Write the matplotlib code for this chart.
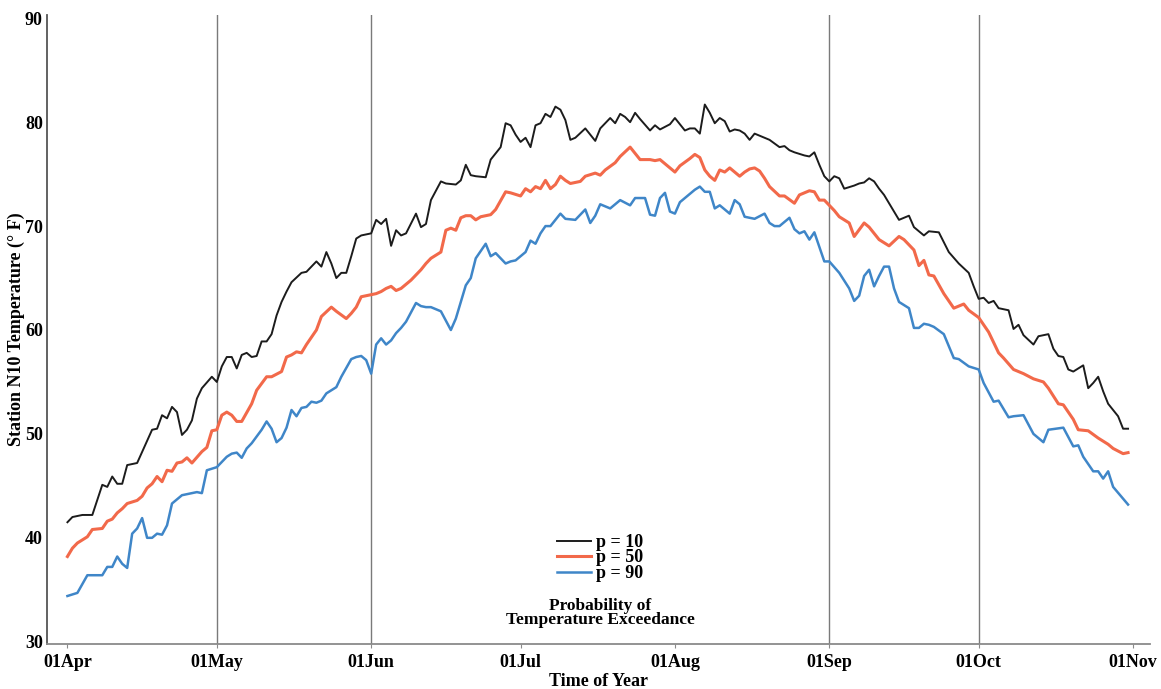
import matplotlib
matplotlib.use('Agg')
import matplotlib.pyplot as plt
import matplotlib.dates as mdates
import pandas as pd

# days after 01Apr and temperature (deg F)
p10_day = [0, 1, 3, 5, 7, 8, 9, 10, 11, 12, 14, 17, 18, 19, 20, 21, 22, 23, 24, 25, 26, 27, 29, 30,
           31, 32, 33, 34, 35, 36, 37, 38, 39, 40, 41, 42, 43, 44, 45, 47, 48, 50, 51, 52, 53, 54, 55,
           56, 57, 58, 59, 60, 61, 62, 63, 64, 65, 66, 67, 68, 70, 71, 72, 73, 75, 76, 78, 79, 80, 81,
           82, 84, 85, 87, 88, 89, 90, 91, 92, 93, 94, 95, 96, 97, 98, 99, 100, 101, 102, 104, 105,
           106, 107, 109, 110, 111, 112, 113, 114, 115, 117, 118, 119, 121, 122, 124, 125, 126, 127,
           128, 129, 130, 131, 132, 133, 134, 135, 136, 137, 138, 140, 141, 143, 144, 145, 146, 148,
           149, 150, 151, 152, 153, 154, 155, 156, 158, 159, 160, 161, 162, 163, 164, 166, 167, 169,
           170, 172, 173, 175, 177, 179, 181, 182, 183, 184, 185, 186, 187, 189, 190, 191, 192, 194,
           195, 197, 198, 199, 200, 201, 202, 204, 205, 206, 207, 208, 209, 211, 212, 213]
p10_temp = [41.5, 42.0, 42.2, 42.2, 45.1, 44.9, 45.9, 45.2, 45.2, 47.0, 47.2, 50.4, 50.5, 51.8, 51.5,
            52.6, 52.1, 49.9, 50.4, 51.3, 53.4, 54.4, 55.5, 55.0, 56.5, 57.4, 57.4, 56.3, 57.6, 57.8,
            57.4, 57.5, 58.9, 58.9, 59.6, 61.4, 62.7, 63.7, 64.6, 65.5, 65.6, 66.6, 66.1, 67.5, 66.4,
            65.0, 65.5, 65.5, 67.1, 68.8, 69.1, 69.2, 69.3, 70.6, 70.2, 70.7, 68.1, 69.6, 69.1, 69.3,
            71.2, 69.9, 70.2, 72.5, 74.3, 74.1, 74.0, 74.4, 75.9, 74.9, 74.8, 74.7, 76.4, 77.6, 79.9,
            79.7, 78.8, 78.1, 78.5, 77.6, 79.7, 79.9, 80.8, 80.5, 81.5, 81.2, 80.2, 78.3, 78.5, 79.4,
            78.8, 78.2, 79.4, 80.4, 79.9, 80.8, 80.5, 80.0, 80.9, 80.3, 79.2, 79.7, 79.3, 79.8, 80.4,
            79.2, 79.4, 79.4, 78.9, 81.7, 80.9, 79.9, 80.4, 80.1, 79.1, 79.3, 79.2, 78.9, 78.3, 78.9,
            78.5, 78.3, 77.6, 77.7, 77.3, 77.1, 76.8, 76.7, 77.1, 75.9, 74.8, 74.3, 74.8, 74.6, 73.6,
            73.9, 74.1, 74.2, 74.6, 74.3, 73.6, 73.0, 71.4, 70.6, 71.0, 69.9, 69.1, 69.5, 69.4, 67.5,
            66.4, 65.5, 64.2, 63.0, 63.1, 62.6, 62.8, 62.1, 61.9, 60.1, 60.5, 59.5, 58.6, 59.4, 59.6,
            58.2, 57.5, 57.4, 56.2, 56.0, 56.6, 54.4, 54.9, 55.5, 54.1, 52.9, 51.7, 50.5, 50.5]

p50_day = [0, 1, 2, 4, 5, 7, 8, 9, 10, 11, 12, 14, 15, 16, 17, 18, 19, 20, 21, 22, 23, 24, 25, 27,
           28, 29, 30, 31, 32, 33, 34, 35, 37, 38, 40, 41, 43, 44, 45, 46, 47, 48, 50, 51, 53, 54, 56,
           57, 58, 59, 61, 62, 63, 64, 65, 66, 67, 69, 70, 71, 72, 73, 74, 75, 76, 77, 78, 79, 80, 81,
           82, 83, 85, 86, 88, 89, 91, 92, 93, 94, 95, 96, 97, 98, 99, 100, 101, 103, 104, 106, 107,
           108, 110, 111, 113, 114, 115, 117, 118, 119, 120, 121, 122, 123, 125, 126, 127, 128, 129,
           130, 131, 132, 133, 134, 135, 136, 137, 138, 139, 140, 141, 143, 144, 146, 147, 149, 150,
           151, 152, 154, 155, 157, 158, 160, 161, 162, 163, 165, 167, 168, 170, 171, 172, 173, 174,
           176, 178, 180, 181, 183, 185, 187, 188, 190, 192, 194, 196, 197, 199, 200, 202, 203, 205,
           207, 209, 210, 212, 213]
p50_temp = [38.2, 39.0, 39.5, 40.1, 40.8, 40.9, 41.6, 41.8, 42.4, 42.8, 43.3, 43.6, 44.0, 44.8, 45.2,
            45.9, 45.4, 46.5, 46.4, 47.2, 47.3, 47.7, 47.2, 48.3, 48.7, 50.3, 50.4, 51.8, 52.1, 51.8,
            51.2, 51.2, 52.9, 54.2, 55.5, 55.5, 56.0, 57.4, 57.6, 57.9, 57.8, 58.6, 60.0, 61.3, 62.2,
            61.8, 61.1, 61.6, 62.2, 63.2, 63.4, 63.5, 63.7, 64.0, 64.2, 63.8, 64.0, 64.8, 65.3, 65.8,
            66.4, 66.9, 67.2, 67.5, 69.6, 69.8, 69.6, 70.8, 71.0, 71.0, 70.6, 70.9, 71.1, 71.6, 73.3,
            73.2, 72.9, 73.6, 73.3, 73.8, 73.6, 74.4, 73.6, 74.0, 74.8, 74.4, 74.1, 74.3, 74.8, 75.1,
            74.9, 75.4, 76.1, 76.7, 77.6, 77.0, 76.4, 76.4, 76.3, 76.4, 76.0, 75.6, 75.2, 75.8, 76.5,
            76.9, 76.6, 75.4, 74.8, 74.4, 75.4, 75.2, 75.6, 75.2, 74.8, 75.2, 75.5, 75.6, 75.3, 74.6,
            73.8, 72.9, 72.9, 72.2, 73.0, 73.4, 73.3, 72.5, 72.5, 71.5, 70.9, 70.3, 69.0, 70.3, 69.9,
            69.3, 68.7, 68.1, 69.0, 68.7, 67.7, 66.2, 66.7, 65.3, 65.2, 63.5, 62.1, 62.5, 61.9, 61.2,
            59.8, 57.8, 57.3, 56.2, 55.8, 55.3, 55.0, 54.4, 52.9, 52.8, 51.4, 50.4, 50.3, 49.6, 49.0,
            48.6, 48.1, 48.2]

p90_day = [0, 2, 4, 7, 8, 9, 10, 11, 12, 13, 14, 15, 16, 17, 18, 19, 20, 21, 23, 24, 26, 27, 28, 30,
           32, 33, 34, 35, 36, 37, 39, 40, 41, 42, 43, 44, 45, 46, 47, 48, 49, 50, 51, 52, 54, 55, 57,
           58, 59, 60, 61, 62, 63, 64, 65, 66, 67, 68, 70, 71, 72, 73, 75, 77, 78, 79, 80, 81, 82, 84,
           85, 86, 88, 89, 90, 92, 93, 94, 95, 96, 97, 99, 100, 102, 104, 105, 106, 107, 109, 111,
           113, 114, 116, 117, 118, 119, 120, 121, 122, 123, 124, 126, 127, 128, 129, 130, 131, 133,
           134, 135, 136, 137, 138, 140, 141, 142, 143, 145, 146, 147, 148, 149, 150, 151, 152, 153,
           155, 157, 158, 159, 160, 161, 162, 163, 164, 165, 166, 167, 169, 170, 171, 172, 173, 174,
           176, 178, 179, 181, 183, 184, 186, 187, 189, 190, 192, 194, 196, 197, 200, 202, 203, 204,
           206, 207, 208, 209, 210, 213]
p90_temp = [34.4, 34.7, 36.4, 36.4, 37.2, 37.2, 38.2, 37.5, 37.1, 40.4, 40.9, 41.9, 40.0, 40.0, 40.4,
            40.3, 41.2, 43.3, 44.1, 44.2, 44.4, 44.3, 46.5, 46.8, 47.8, 48.1, 48.2, 47.7, 48.6, 49.1,
            50.4, 51.2, 50.5, 49.2, 49.6, 50.6, 52.3, 51.7, 52.5, 52.6, 53.1, 53.0, 53.2, 53.9, 54.5,
            55.5, 57.2, 57.4, 57.5, 57.1, 55.8, 58.6, 59.2, 58.6, 59.0, 59.7, 60.2, 60.8, 62.6, 62.3,
            62.2, 62.2, 61.8, 60.0, 61.1, 62.7, 64.3, 65.0, 66.9, 68.3, 67.1, 67.4, 66.4, 66.6, 66.7,
            67.5, 68.6, 68.3, 69.3, 70.0, 70.0, 71.2, 70.7, 70.6, 71.6, 70.3, 71.0, 72.1, 71.7, 72.5,
            72.0, 72.7, 72.7, 71.1, 71.0, 72.7, 73.2, 71.4, 71.2, 72.3, 72.7, 73.5, 73.8, 73.3, 73.3,
            71.7, 72.0, 71.2, 72.5, 72.1, 70.9, 70.8, 70.7, 71.2, 70.3, 70.0, 70.0, 70.8, 69.7, 69.3,
            69.5, 68.7, 69.4, 68.0, 66.6, 66.6, 65.5, 64.0, 62.8, 63.3, 65.2, 65.8, 64.2, 65.2, 66.1,
            66.1, 64.0, 62.7, 62.1, 60.2, 60.2, 60.6, 60.5, 60.3, 59.6, 57.3, 57.2, 56.5, 56.2, 54.9,
            53.1, 53.2, 51.6, 51.7, 51.8, 50.0, 49.2, 50.4, 50.6, 48.8, 48.9, 47.8, 46.4, 46.4, 45.7,
            46.4, 44.9, 43.2]

series_labels = ['p = 10', 'p = 50', 'p = 90']
series_colors = ['#1c1c1c', '#f2694a', '#3f86c8']
month_ticks = ['2000-04-01', '2000-05-01', '2000-06-01', '2000-07-01', '2000-08-01',
               '2000-09-01', '2000-10-01', '2000-11-01']
grid_months = ['2000-05-01', '2000-06-01', '2000-09-01', '2000-10-01']

start = pd.Timestamp('2000-04-01')


def to_dates(days):
    return start + pd.to_timedelta(days, unit='D')


font = {'family': 'Liberation Serif', 'weight': 'bold'}

fig = plt.figure(figsize=(11.61, 6.89), dpi=100)
ax = fig.add_axes([0.0405, 0.0656, 0.950, 0.9124])

for m in grid_months:
    ax.axvline(pd.Timestamp(m), color='#7a7a7a', lw=1.0, zorder=1)

lines = []
for d, t, lab, col, lw in zip([p10_day, p50_day, p90_day], [p10_temp, p50_temp, p90_temp],
                              series_labels, series_colors, [1.4, 2.2, 1.8]):
    ln, = ax.plot(to_dates(d), t, color=col, lw=lw, label=lab, zorder=3)
    lines.append(ln)

ax.set_xlim(start - pd.Timedelta(days=4.1), start + pd.Timedelta(days=217.4))
ax.set_ylim(29.8, 90.3)

ax.set_xticks([pd.Timestamp(m) for m in month_ticks])
ax.xaxis.set_major_formatter(mdates.DateFormatter('%d%b'))
ax.set_yticks([30, 40, 50, 60, 70, 80, 90])

for s in ['top', 'right']:
    ax.spines[s].set_visible(False)
ax.spines['left'].set_color('#555555')
ax.spines['bottom'].set_color('#8a8a8a')
ax.spines['left'].set_linewidth(1.3)
ax.spines['bottom'].set_linewidth(1.3)

ax.tick_params(axis='y', length=0, pad=3)
ax.tick_params(axis='x', length=3, pad=4, color='#8a8a8a')
for lbl in ax.get_xticklabels() + ax.get_yticklabels():
    lbl.set_fontfamily('Liberation Serif')
    lbl.set_fontweight('bold')
    lbl.set_fontsize(13)

ax.set_xlabel('Time of Year', fontdict=font, fontsize=13, labelpad=2)
ax.set_ylabel('Station N10 Temperature (° F)', fontdict=font, fontsize=13, labelpad=0)

leg = ax.legend(handles=lines, loc='center', bbox_to_anchor=(600 / 1161, 1 - 558 / 689),
                bbox_transform=fig.transFigure, frameon=False, handlelength=1.9,
                handletextpad=0.3, labelspacing=-0.08,
                prop={'family': 'Liberation Serif', 'weight': 'bold', 'size': 13})

fig.text(600 / 1161, 1 - 613 / 689, 'Probability of\nTemperature Exceedance', ha='center',
         va='center', linespacing=0.8, fontdict=font, fontsize=12.5)

fig.savefig('out.png', dpi=100)
